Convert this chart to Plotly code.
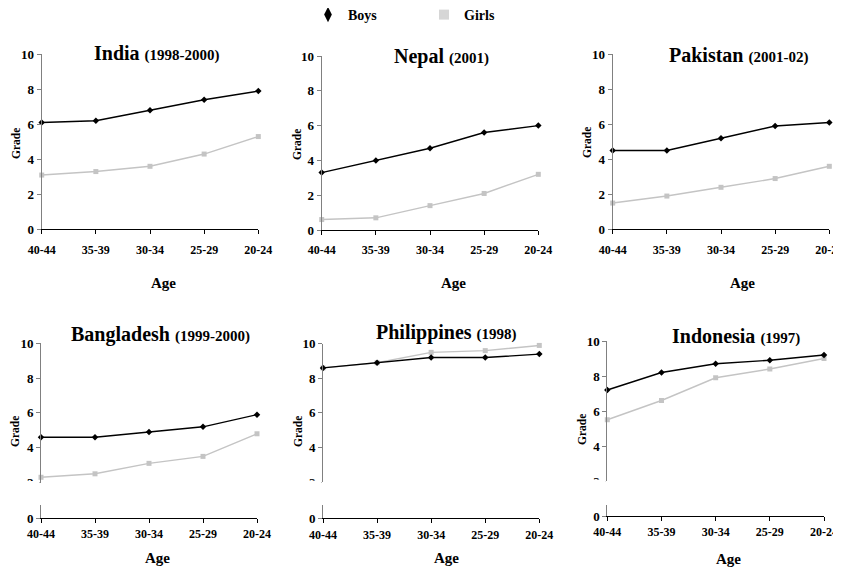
import plotly.graph_objects as go

# ---------------- data ----------------
ages = ["40-44", "35-39", "30-34", "25-29", "20-24"]
countries = ["India", "Nepal", "Pakistan", "Bangladesh", "Philippines", "Indonesia"]
years = ["(1998-2000)", "(2001)", "(2001-02)", "(1999-2000)", "(1998)", "(1997)"]
y_ticks = [0, 2, 4, 6, 8, 10]

india_boys = [6.1, 6.2, 6.8, 7.4, 7.9]
india_girls = [3.1, 3.3, 3.6, 4.3, 5.3]
nepal_boys = [3.3, 4.0, 4.7, 5.6, 6.0]
nepal_girls = [0.6, 0.7, 1.4, 2.1, 3.2]
pakistan_boys = [4.5, 4.5, 5.2, 5.9, 6.1]
pakistan_girls = [1.5, 1.9, 2.4, 2.9, 3.6]
bangladesh_boys = [4.6, 4.6, 4.9, 5.2, 5.9]
bangladesh_girls = [2.3, 2.5, 3.1, 3.5, 4.8]
philippines_boys = [8.6, 8.9, 9.2, 9.2, 9.4]
philippines_girls = [8.6, 8.9, 9.5, 9.6, 9.9]
indonesia_boys = [7.2, 8.2, 8.7, 8.9, 9.2]
indonesia_girls = [5.5, 6.6, 7.9, 8.4, 9.0]

boys = [india_boys, nepal_boys, pakistan_boys, bangladesh_boys, philippines_boys, indonesia_boys]
girls = [india_girls, nepal_girls, pakistan_girls, bangladesh_girls, philippines_girls, indonesia_girls]

# ---------------- layout geometry (pixels in the 841x571 window) ----------------
WIN_W, WIN_H = 841, 571
OFF = 8                      # default page margin around the figure
W, H = WIN_W - OFF, WIN_H - OFF
FONT = "Liberation Serif"
BOY_C = "#000000"
GIRL_C = "#c4c4c4"
YLINE_C = "#808080"


def fx(p):
    return (p - OFF) / W


def fy(p):
    return 1 - (p - OFF) / H


# x0, x1, y(top value px), y(bottom value px)
top_geo = [
    (41.7, 258.3, 54.3, 229.3),
    (321.7, 538.3, 56.0, 230.0),
    (612.7, 829.3, 54.3, 229.3),
]
# x0, x1, y10 px, y2 px, lower top px, y0 px
bot_geo = [
    (41.0, 257.0, 343.3, 482.5, 505.0, 518.0),
    (323.0, 539.3, 343.7, 482.1, 505.0, 518.3),
    (607.3, 824.0, 341.0, 481.0, 505.0, 516.0),
]
title_pos = [(156.7, 53), (441, 56.5), (738, 55), (160, 334), (447, 332), (736, 335.5)]
grade_pos = [(16, 144), (297, 145), (587, 143), (15, 432), (298, 432), (582, 430)]
age_pos = [(163, 283), (453, 283), (742, 283), (157, 558), (446, 558), (728, 559)]

fig = go.Figure()

xaxis_common = dict(
    type="category", range=[0, 4], showline=True, linecolor="black", linewidth=1,
    ticks="outside", ticklen=4, tickcolor="black", showgrid=False, zeroline=False,
    tickfont=dict(family=FONT, size=12, color="black", weight="bold"),
    fixedrange=True,
)
yaxis_common = dict(
    showline=True, linecolor=YLINE_C, linewidth=1, ticks="outside", ticklen=4,
    tickcolor=YLINE_C, showgrid=False, zeroline=False, tickvals=y_ticks,
    tickfont=dict(family=FONT, size=13, color="black", weight="bold"),
    fixedrange=True,
)

layout_axes = {}
shapes = []
for i in range(6):
    n = i + 1
    xname = "x" if n == 1 else f"x{n}"
    yname = "y" if n == 1 else f"y{n}"
    xkey = "xaxis" if n == 1 else f"xaxis{n}"
    ykey = "yaxis" if n == 1 else f"yaxis{n}"
    if i < 3:
        x0, x1, yt, yb = top_geo[i]
        layout_axes[xkey] = dict(xaxis_common, domain=[fx(x0), fx(x1)], anchor=yname,
                                 ticklabelstandoff=5)
        layout_axes[ykey] = dict(yaxis_common, domain=[fy(yb), fy(yt)], range=[0, 10],
                                 anchor=xname)
    else:
        x0, x1, y10, y2, lt, y0 = bot_geo[i - 3]
        scale = (y2 - y10) / 8.0
        low_n = n + 3
        lowname = f"y{low_n}"
        lowkey = f"yaxis{low_n}"
        layout_axes[xkey] = dict(xaxis_common, domain=[fx(x0), fx(x1)], anchor=lowname,
                                 ticklabelstandoff=1)
        layout_axes[ykey] = dict(yaxis_common, domain=[fy(y2), fy(y10)], range=[2, 10],
                                 anchor=xname)
        layout_axes[lowkey] = dict(yaxis_common, domain=[fy(y0), fy(lt)],
                                   range=[0, (y0 - lt) / scale], tickvals=[0], anchor=xname)
        fig.add_trace(go.Scatter(x=[], y=[], xaxis=xname, yaxis=lowname,
                                 showlegend=False, hoverinfo="skip"))
        # mask the clipped "2" tick label at the axis break
        shapes.append(dict(type="rect", xref="paper", yref="paper", layer="above",
                           x0=fx(x0 - 26), x1=fx(x0 - 1.5), y0=fy(y2 + 10), y1=fy(y2 - 1.5),
                           fillcolor="white", line=dict(width=0)))

    fig.add_trace(go.Scatter(
        x=ages, y=girls[i], xaxis=xname, yaxis=yname, mode="lines+markers",
        line=dict(color=GIRL_C, width=1.4), marker=dict(symbol="square", size=5, color=GIRL_C),
        showlegend=False, cliponaxis=False, name="Girls"))
    fig.add_trace(go.Scatter(
        x=ages, y=boys[i], xaxis=xname, yaxis=yname, mode="lines+markers",
        line=dict(color=BOY_C, width=1.4), marker=dict(symbol="diamond", size=5, color=BOY_C),
        showlegend=False, cliponaxis=False, name="Boys"))

# legend entries
fig.add_trace(go.Scatter(x=[None], y=[None], mode="markers", name="Boys",
                         marker=dict(symbol="diamond-tall", size=11, color=BOY_C)))
fig.add_trace(go.Scatter(x=[None], y=[None], mode="markers", name="Girls",
                         marker=dict(symbol="square", size=10, color="#d6d6d6")))

annotations = []
for i in range(6):
    tx, ty = title_pos[i]
    annotations.append(dict(
        x=fx(tx), y=fy(ty), xref="paper", yref="paper", xanchor="center", yanchor="middle",
        showarrow=False,
        text=f"<b>{countries[i]}</b> <span style='font-size:15px'><b>{years[i]}</b></span>",
        font=dict(family=FONT, size=20, color="black")))
    gx, gy = grade_pos[i]
    annotations.append(dict(
        x=fx(gx), y=fy(gy), xref="paper", yref="paper", xanchor="center", yanchor="middle",
        showarrow=False, textangle=-90, text="<b>Grade</b>",
        font=dict(family=FONT, size=11.5, color="black")))
    ax, ay = age_pos[i]
    annotations.append(dict(
        x=fx(ax), y=fy(ay), xref="paper", yref="paper", xanchor="center", yanchor="middle",
        showarrow=False, text="<b>Age</b>",
        font=dict(family=FONT, size=15, color="black")))

fig.update_layout(
    width=W, height=H, margin=dict(l=0, r=0, t=0, b=0, autoexpand=False),
    paper_bgcolor="white", plot_bgcolor="white", template="none",
    font=dict(family=FONT, color="black"),
    showlegend=True,
    legend=dict(orientation="h", x=fx(308), xanchor="left", y=fy(15), yanchor="middle",
                entrywidth=71, entrywidthmode="pixels", bgcolor="rgba(0,0,0,0)",
                font=dict(family=FONT, size=14, color="black", weight="bold")),
    annotations=annotations,
    shapes=shapes,
    **layout_axes,
)

fig.write_html("out.html")
